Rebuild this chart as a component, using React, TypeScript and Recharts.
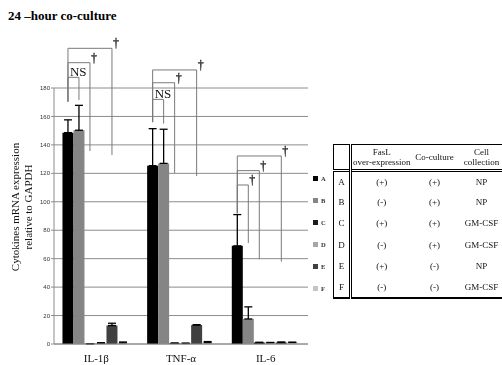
import React from "react";
import { BarChart, Bar, XAxis, YAxis, CartesianGrid, ErrorBar, Rectangle } from "recharts";

const categories = ["IL-1β", "TNF-α", "IL-6"];
const groups = ["A", "B", "C", "D", "E", "F"];

// mean expression per group, one value per cytokine
const meanA = [148.6, 125.4, 69];
const meanB = [150.3, 127, 17.6];
const meanC = [0.2, 0.5, 1.0];
const meanD = [0.6, 0.4, 0.9];
const meanE = [13, 13.3, 1.1];
const meanF = [0.8, 0.9, 1.0];

// upper error (SD)
const errA = [9, 26, 22];
const errB = [17.5, 24, 8.5];
const errC = [0, 0.2, 0.2];
const errD = [0.3, 0.2, 0.2];
const errE = [1.6, 0.3, 0.3];
const errF = [0.6, 0.8, 0.3];

const yTicks = [0, 20, 40, 60, 80, 100, 120, 140, 160, 180];

// table on the right
const faslRows = ["(+)", "(-)", "(+)", "(-)", "(+)", "(-)"];
const cocultureRows = ["(+)", "(+)", "(+)", "(+)", "(-)", "(-)"];
const collectionRows = ["NP", "NP", "GM-CSF", "GM-CSF", "NP", "GM-CSF"];

// significance brackets from group A, heights in data units
const brackets = [
  { cat: 0, to: 1, top: 187.5, leftEnd: 170.4, rightEnd: 171.6, mark: "NS" },
  { cat: 0, to: 2, top: 197.8, leftEnd: 170.4, rightEnd: 135.7, mark: "†" },
  { cat: 0, to: 4, top: 207.9, leftEnd: 170.4, rightEnd: 132.9, mark: "†" },
  { cat: 1, to: 1, top: 172, leftEnd: 156, rightEnd: 155, mark: "NS" },
  { cat: 1, to: 2, top: 183.7, leftEnd: 156, rightEnd: 120.2, mark: "†" },
  { cat: 1, to: 4, top: 192.7, leftEnd: 156, rightEnd: 118.1, mark: "†" },
  { cat: 2, to: 1, top: 111.8, leftEnd: 92, rightEnd: 71, mark: "†" },
  { cat: 2, to: 2, top: 121.9, leftEnd: 92, rightEnd: 59.6, mark: "†" },
  { cat: 2, to: 4, top: 132.2, leftEnd: 92, rightEnd: 57.9, mark: "†" },
];

const colors: Record<string, string> = {
  A: "#000000",
  B: "#858585",
  C: "#1c1c1c",
  D: "#a6a6a6",
  E: "#404040",
  F: "#c4c4c4",
};

const means: Record<string, number[]> = { A: meanA, B: meanB, C: meanC, D: meanD, E: meanE, F: meanF };
const errs: Record<string, number[]> = { A: errA, B: errB, C: errC, D: errD, E: errE, F: errF };

const data = categories.map((name, i) => {
  const row: any = { name };
  groups.forEach((g) => {
    row[g] = means[g][i];
    row["err" + g] = [0, errs[g][i]];
  });
  return row;
});

const serif = "'Liberation Serif', 'Times New Roman', serif";

// bar A draws itself plus the brackets of its category
const BarWithBrackets = (props: any) => {
  const { x, y, width, height, fill, index, payload } = props;
  const base = y + height;
  const ppu = height / payload.A;
  const toY = (v: number) => base - v * ppu;
  const cx = (i: number) => x + width * (i + 0.5);
  const list = brackets.filter((b) => b.cat === index);
  return (
    <g>
      <Rectangle x={x} y={y} width={width} height={height} fill={fill} />
      {list.map((b, k) => {
        const lx = cx(0);
        const rx = cx(b.to);
        const ty = toY(b.top);
        return (
          <g key={k}>
            <path
              d={`M${lx},${toY(b.leftEnd)}V${ty}H${rx}V${toY(b.rightEnd)}`}
              fill="none"
              stroke="#7a7a7a"
              strokeWidth={1}
            />
            {b.mark === "NS" ? (
              <text x={lx + 2} y={ty - 1} fontSize={13} fontFamily={serif} fill="#111">
                NS
              </text>
            ) : (
              <text
                x={rx + 4}
                y={ty - 1}
                fontSize={12}
                fontFamily={serif}
                fill="#222"
                stroke="#222"
                strokeWidth={0.3}
                textAnchor="middle"
              >
                †
              </text>
            )}
          </g>
        );
      })}
    </g>
  );
};

const YLabel = () => (
  <g fontFamily={serif} fontSize={11} fill="#111">
    <text x={15} y={207} textAnchor="middle" dominantBaseline="central" transform="rotate(-90, 15, 207)">
      Cytokines mRNA expression
    </text>
    <text x={28} y={207} textAnchor="middle" dominantBaseline="central" transform="rotate(-90, 28, 207)">
      relative to GAPDH
    </text>
  </g>
);

const cell: React.CSSProperties = { padding: 0, textAlign: "center", verticalAlign: "middle" };

export default function App() {
  return (
    <div style={{ position: "relative", width: 502, height: 365, overflow: "hidden", background: "#fff" }}>
      <style>{`body{margin:0}`}</style>
      <div
        style={{
          position: "absolute",
          left: 8,
          top: 9,
          fontFamily: serif,
          fontWeight: "bold",
          fontSize: 13,
          lineHeight: "13px",
        }}
      >
        24 –hour co-culture
      </div>
      <div style={{ position: "absolute", left: 0, top: 0, willChange: "transform" }}>
        <BarChart
          width={330}
          height={365}
          data={data}
          margin={{ top: 88, right: 22, bottom: 0, left: 34 }}
          barCategoryGap="10%"
          barGap={0}
        >
          <CartesianGrid vertical={false} stroke="#8c8c8c" />
          <XAxis
            dataKey="name"
            height={21}
            axisLine={{ stroke: "#8c8c8c" }}
            tickLine={false}
            tickMargin={4}
            tick={{ fontSize: 11, fontFamily: serif, fill: "#111" }}
          />
          <YAxis
            width={20}
            domain={[0, 180]}
            ticks={yTicks}
            interval={0}
            axisLine={{ stroke: "#8c8c8c" }}
            tickLine={{ stroke: "#8c8c8c" }}
            tickSize={3}
            tickMargin={1}
            tick={{ fontSize: 6, fontFamily: "'Liberation Sans', Arial, sans-serif", fill: "#333" }}
            label={{ content: <YLabel /> }}
          />
          {groups.map((g) => (
            <Bar
              key={g}
              dataKey={g}
              fill={colors[g]}
              isAnimationActive={false}
              shape={g === "A" ? <BarWithBrackets /> : undefined}
            >
              <ErrorBar dataKey={"err" + g} width={4} stroke="#000" strokeWidth={1.3} />
            </Bar>
          ))}
        </BarChart>
      </div>
      {groups.map((g, i) => (
        <div
          key={g}
          style={{
            position: "absolute",
            left: 313,
            top: 178 + i * 22 - 4,
            height: 8,
            display: "flex",
            alignItems: "center",
            fontFamily: serif,
            fontWeight: "bold",
            fontSize: 6.5,
            color: "#333",
          }}
        >
          <span style={{ display: "inline-block", width: 5, height: 5, background: colors[g], marginRight: 3 }} />
          {g}
        </div>
      ))}
      <table
        style={{
          position: "absolute",
          left: 333,
          top: 144,
          borderCollapse: "collapse",
          fontFamily: serif,
          fontSize: 9,
          lineHeight: "10px",
          color: "#111",
          tableLayout: "fixed",
          width: 172,
          borderTop: "1px solid #000",
          borderBottom: "2px solid #000",
          borderLeft: "1px solid #000",
        }}
      >
        <colgroup>
          <col style={{ width: 17 }} />
          <col style={{ width: 61 }} />
          <col style={{ width: 46 }} />
          <col style={{ width: 48 }} />
        </colgroup>
        <tbody>
          <tr style={{ height: 26, borderBottom: "3px double #000" }}>
            <td style={{ ...cell, borderRight: "3px double #000" }} />
            <td style={cell}>
              FasL
              <br />
              over-expression
            </td>
            <td style={cell}>Co-culture</td>
            <td style={cell}>
              Cell
              <br />
              collection
            </td>
          </tr>
          {groups.map((g, i) => (
            <tr key={g} style={{ height: 21.2 }}>
              <td style={{ ...cell, borderRight: "3px double #000" }}>{g}</td>
              <td style={cell}>{faslRows[i]}</td>
              <td style={cell}>{cocultureRows[i]}</td>
              <td style={cell}>{collectionRows[i]}</td>
            </tr>
          ))}
        </tbody>
      </table>
    </div>
  );
}
